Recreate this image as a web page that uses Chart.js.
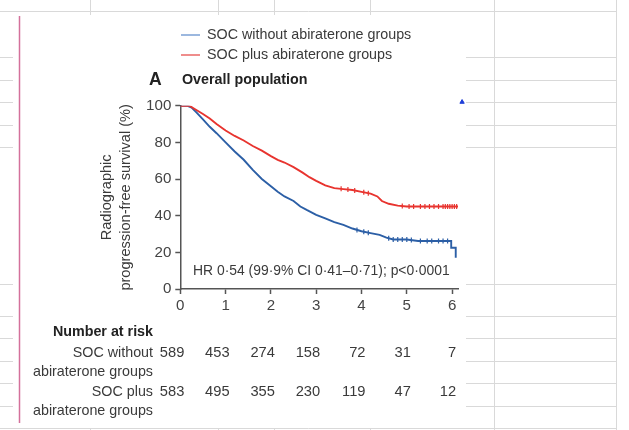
<!DOCTYPE html>
<html>
<head>
<meta charset="utf-8">
<title>Radiographic progression-free survival</title>
<script src="https://cdn.jsdelivr.net/npm/chart.js@4.4.1/dist/chart.umd.min.js"></script>
<style>
  html, body { margin: 0; padding: 0; background: #fff; }
  #wrap { width: 629px; height: 430px; }
</style>
</head>
<body>
<div id="wrap"><canvas id="kmChart" width="629" height="430"></canvas></div>
<script>
// data
var years = [0, 1, 2, 3, 4, 5, 6];
var yTicks = [0, 20, 40, 60, 80, 100];
var seriesNames = ["SOC without abiraterone groups", "SOC plus abiraterone groups"];
var riskLabels = [["SOC without", "abiraterone groups"], ["SOC plus", "abiraterone groups"]];
var riskWithout = [589, 453, 274, 158, 72, 31, 7];
var riskPlus = [583, 495, 355, 230, 119, 47, 12];
var hrText = "HR 0\u00b754 (99\u00b79% CI 0\u00b741\u20130\u00b771); p<0\u00b70001";

// survival curves (years, %)
var withoutT = [0, 0.15, 0.25, 0.35, 0.5, 0.65, 0.8, 1.0, 1.2, 1.4, 1.6, 1.8, 2.0, 2.15, 2.3, 2.5, 2.65, 2.8, 3.0, 3.2, 3.4, 3.6, 3.8, 4.0, 4.2, 4.4, 4.55, 4.7, 5.0, 5.25, 5.6, 5.98, 5.98, 6.08, 6.08];
var withoutS = [100, 100, 99, 96.5, 92.5, 88.5, 85, 80, 75, 70.5, 65, 60, 56, 53, 50.5, 48, 45, 43, 40.5, 38.5, 36.5, 35, 33, 31.5, 30.5, 29.5, 28, 27, 27, 26.2, 26.2, 26.2, 22.5, 22.5, 17];
var plusT = [0, 0.2, 0.3, 0.5, 0.65, 0.8, 1.0, 1.2, 1.4, 1.6, 1.8, 2.0, 2.15, 2.3, 2.5, 2.7, 2.85, 3.0, 3.2, 3.4, 3.6, 3.8, 4.0, 4.2, 4.35, 4.45, 4.6, 4.8, 5.0, 6.13];
var plusS = [100, 100, 98.5, 95.5, 93, 90, 86.5, 83.5, 81, 78, 75.5, 72.5, 70.5, 69, 66.5, 63.5, 61, 59, 56.5, 55, 54.5, 54, 53, 52, 50.5, 48, 46.5, 45.5, 45, 45];

// censoring ticks (years)
var withoutCensor = [3.9, 4.05, 4.15, 4.6, 4.7, 4.8, 4.9, 5.0, 5.1, 5.3, 5.45, 5.55, 5.7, 5.8, 5.9];
var plusCensor = [3.55, 3.7, 3.85, 4.05, 4.15, 4.9, 5.05, 5.15, 5.3, 5.4, 5.5, 5.6, 5.7, 5.8, 5.85, 5.9, 5.95, 6.0, 6.05, 6.1];

// stray marker in the screenshot
var strayMarker = [{ x: 6.22, y: 102 }];


var BLUE = "#2c5fa6";
var RED = "#e8342f";
var TEXT = "#3a3a3a";
var AXIS = "#555";

function hasFont(name) {
  var c = document.createElement("canvas").getContext("2d");
  var s = "abiraterone groups 0123";
  c.font = "20px monospace";
  var a = c.measureText(s).width;
  c.font = "20px '" + name + "', monospace";
  var b = c.measureText(s).width;
  return a !== b;
}

var NARROW = hasFont("Liberation Sans Narrow");
var FAMILY = NARROW ? "'Liberation Sans Narrow', 'Liberation Sans', sans-serif" : "'Liberation Sans', Arial, sans-serif";
var K = NARROW ? 1 : 0.84;
function fs(px) { return Math.round(px * K * 10) / 10; }

function toPoints(T, S) {
  return T.map(function (t, i) { return { x: t, y: S[i] }; });
}

// y on the drawn (straight-segment) curve at time t
function curveAt(T, S, t) {
  for (var i = T.length - 1; i >= 0; i--) {
    if (T[i] <= t) {
      if (i === T.length - 1 || T[i + 1] === T[i]) return S[i];
      var f = (t - T[i]) / (T[i + 1] - T[i]);
      return S[i] + f * (S[i + 1] - S[i]);
    }
  }
  return S[0];
}

function censorPoints(times, T, S) {
  return times.map(function (t) { return { x: t, y: curveAt(T, S, t) }; });
}


var paperPlugin = {
  id: "paper",
  beforeDraw: function (chart) {
    var ctx = chart.ctx;
    ctx.save();
    ctx.fillStyle = "#fff";
    ctx.fillRect(0, 0, chart.width, chart.height);

    // spreadsheet grid behind the pasted figure
    ctx.strokeStyle = "#d9d9d9";
    ctx.lineWidth = 1;
    function hline(y, x0, x1) { ctx.beginPath(); ctx.moveTo(x0, y); ctx.lineTo(x1, y); ctx.stroke(); }
    function vline(x, y0, y1) { ctx.beginPath(); ctx.moveTo(x, y0); ctx.lineTo(x, y1); ctx.stroke(); }
    hline(11.5, 0, 617);
    hline(428.5, 0, 617);
    vline(494.5, 0, 430);
    vline(616.5, 0, 430);
    [90.5, 218.5, 274.5, 370.5].forEach(function (x) {
      vline(x, 0, 15);
      vline(x, 428, 430);
    });
    [57, 80, 102, 125, 147, 284, 316, 338, 361, 383, 406].forEach(function (y) {
      hline(y + 0.5, 0, 13);
      hline(y + 0.5, 466, 617);
    });

    // pink margin line
    ctx.strokeStyle = "#d4719b";
    ctx.lineWidth = 1.5;
    vline(19.5, 16, 423);
    ctx.restore();
  },
  afterDraw: function (chart) {
    var ctx = chart.ctx;
    var xs = chart.scales.x;
    ctx.save();
    ctx.textBaseline = "middle";

    // legend
    var legendColors = ["#5a88c9", "#e5403e"];
    [35, 55].forEach(function (y, i) {
      ctx.strokeStyle = legendColors[i];
      ctx.lineWidth = 1.2;
      ctx.beginPath();
      ctx.moveTo(181, y);
      ctx.lineTo(200, y);
      ctx.stroke();
      ctx.fillStyle = TEXT;
      ctx.textAlign = "left";
      ctx.font = fs(17) + "px " + FAMILY;
      ctx.fillText(seriesNames[i], 207, y);
    });

    // panel heading
    ctx.fillStyle = "#222";
    ctx.font = "bold " + fs(21) + "px " + FAMILY;
    ctx.fillText("A", 149, 80);
    ctx.font = "bold " + fs(17) + "px " + FAMILY;
    ctx.fillText("Overall population", 182, 80);

    // hazard ratio
    ctx.fillStyle = TEXT;
    ctx.font = fs(16.5) + "px " + FAMILY;
    ctx.fillText(hrText, 193, 271);

    // number at risk
    ctx.textAlign = "right";
    ctx.fillStyle = "#222";
    ctx.font = "bold " + fs(17) + "px " + FAMILY;
    ctx.fillText("Number at risk", 153, 332);
    ctx.fillStyle = TEXT;
    ctx.font = fs(17) + "px " + FAMILY;
    var rowY = [353, 392];
    riskLabels.forEach(function (lines, r) {
      ctx.fillText(lines[0], 153, rowY[r]);
      ctx.fillText(lines[1], 153, rowY[r] + 19);
    });
    ctx.font = fs(17.5) + "px " + FAMILY;
    [riskWithout, riskPlus].forEach(function (row, r) {
      row.forEach(function (n, i) {
        ctx.fillText(String(n), xs.getPixelForValue(years[i]) + 4, rowY[r]);
      });
    });
    ctx.restore();
  }
};


var ctx = document.getElementById("kmChart");

var KmChart = new Chart(ctx, {
  type: "scatter",
  data: {
    datasets: [
      {
        label: seriesNames[1],
        data: toPoints(plusT, plusS),
        showLine: true,
        borderColor: RED,
        borderWidth: 1.9,
        pointRadius: 0,
        tension: 0,
        order: 1,
      },
      {
        label: seriesNames[0],
        data: toPoints(withoutT, withoutS),
        showLine: true,
        borderColor: BLUE,
        borderWidth: 1.9,
        pointRadius: 0,
        tension: 0,
        order: 2,
      },
      {
        label: "censored plus",
        data: censorPoints(plusCensor, plusT, plusS),
        pointStyle: "line",
        rotation: 90,
        pointRadius: 2.5,
        borderColor: RED,
        borderWidth: 1.2,
        order: 1,
      },
      {
        label: "censored without",
        data: censorPoints(withoutCensor, withoutT, withoutS),
        pointStyle: "line",
        rotation: 90,
        pointRadius: 2.5,
        borderColor: BLUE,
        borderWidth: 1.2,
        order: 2,
      },
      {
        label: "marker",
        data: strayMarker,
        pointStyle: "triangle",
        pointRadius: 2.5,
        backgroundColor: "#1f3fd8",
        borderColor: "#1f3fd8",
        borderWidth: 1,
        clip: false,
        order: 0,
      },
    ],
  },
  options: {
    responsive: false,
    animation: false,
    devicePixelRatio: 1,
    layout: {
      padding: { left: 92, right: 171, top: 105.7, bottom: 100 },
    },
    plugins: {
      legend: { display: false },
      tooltip: { enabled: false },
    },
    scales: {
      x: {
        type: "linear",
        min: 0,
        max: 6.13,
        afterBuildTicks: function (scale) {
          scale.ticks = years.map(function (v) { return { value: v }; });
        },
        afterFit: function (scale) { scale.height = 41; },
        border: { display: true, color: AXIS, width: 1.5 },
        grid: { display: true, drawOnChartArea: false, drawTicks: true, tickLength: 5, tickColor: AXIS, tickWidth: 1.5 },
        ticks: {
          color: "#444",
          padding: 3,
          maxRotation: 0,
          font: { family: FAMILY, size: fs(18) },
        },
      },
      y: {
        min: 0,
        max: 100,
        afterBuildTicks: function (scale) {
          scale.ticks = yTicks.map(function (v) { return { value: v }; });
        },
        afterFit: function (scale) { scale.width = 180.3 - 92; },
        border: { display: true, color: AXIS, width: 1.5 },
        grid: { display: true, drawOnChartArea: false, drawTicks: true, tickLength: 5, tickColor: AXIS, tickWidth: 1.5 },
        ticks: {
          color: "#444",
          padding: 4,
          font: { family: FAMILY, size: fs(18) },
        },
        title: {
          display: true,
          text: ["Radiographic", "progression-free survival (%)"],
          color: TEXT,
          padding: { top: 5, bottom: 0 },
          font: { family: FAMILY, size: fs(17.4), lineHeight: "19px" },
        },
      },
    },
  },
  plugins: [paperPlugin],
});
</script>
</body>
</html>
